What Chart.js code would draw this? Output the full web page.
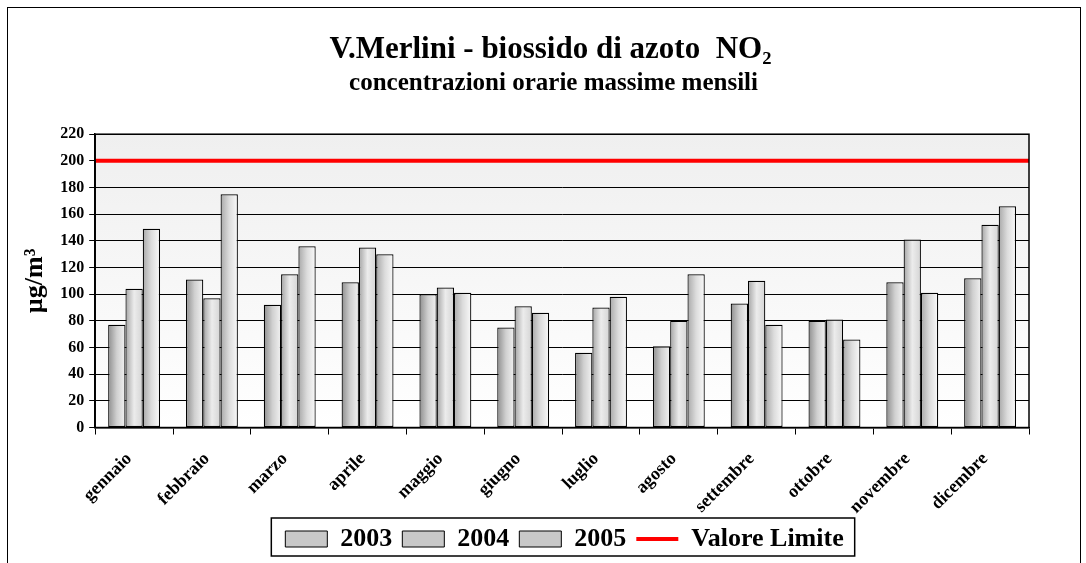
<!DOCTYPE html>
<html>
<head>
<meta charset="utf-8">
<script src="https://cdn.jsdelivr.net/npm/chart.js@4.4.1/dist/chart.umd.min.js"></script>
<style>
    body { margin: 0; background: #fff; }
    #cornice { position: absolute; left: 7px; top: 7px; width: 1072px; height: 600px; border: 1px solid #000; }
    #contenitore { position: absolute; left: 0; top: 0; width: 1086px; height: 563px; }
</style>
</head>
<body>
<div id="cornice"></div>
<div id="contenitore"><canvas id="no2Chart"></canvas></div>
<script>
// Dati
const mesi = ['gennaio', 'febbraio', 'marzo', 'aprile', 'maggio', 'giugno',
    'luglio', 'agosto', 'settembre', 'ottobre', 'novembre', 'dicembre'];
const anni = ['2003', '2004', '2005'];
const valori2003 = [77, 111, 92, 109, 100, 75, 56, 61, 93, 80, 109, 112];
const valori2004 = [104, 97, 115, 135, 105, 91, 90, 80, 110, 81, 141, 152];
const valori2005 = [149, 175, 136, 130, 101, 86, 98, 115, 77, 66, 101, 166];
const valoreLimite = 200;
const assey = { min: 0, max: 220, passo: 20 };

const font = 'Liberation Serif';
const percCategoria = 0.667;

// sfumatura orizzontale per ogni barra
const colori = [
    ['#8e8e8e', '#d0d0d0', '#f2f2f2'],
    ['#a4a4a4', '#ececec', '#d4d4d4'],
    ['#a8a8a8', '#dcdcdc', '#fafafa']
];
function sfumatura(ctx) {
    const chart = ctx.chart;
    const x = chart.scales.x;
    const c = colori[ctx.datasetIndex];
    if (!chart.chartArea || !x || ctx.type !== 'data') return c[1];
    const largBarra = x.width / mesi.length * percCategoria / anni.length;
    const centro = x.getPixelForValue(ctx.dataIndex) + (ctx.datasetIndex - 1) * largBarra;
    const sx = centro - largBarra / 2;
    const g = chart.ctx.createLinearGradient(sx, 0, sx + largBarra, 0);
    g.addColorStop(0, c[0]);
    g.addColorStop(0.5, c[1]);
    g.addColorStop(1, c[2]);
    return g;
}

const sfondoPlot = {
    id: 'sfondoPlot',
    afterLayout(chart) {
        // titoli e legenda dell'originale non sono centrati sulla tela
        const sposta = (box, dx) => { box.left += dx; box.right += dx; };
        sposta(chart.titleBlock, 26);
        const sub = chart.boxes.find(b => b.options && b.options.text === chart.options.plugins.subtitle.text && b !== chart.titleBlock);
        if (sub) sposta(sub, 29);
        const lg = chart.legend;
        sposta(lg, 40);
        (lg.legendHitBoxes || []).forEach(h => { h.left += 40; });
    },
    beforeDraw(chart) {
        const a = chart.chartArea;
        const ctx = chart.ctx;
        const g = ctx.createLinearGradient(0, a.top, 0, a.bottom);
        g.addColorStop(0, '#efefef');
        g.addColorStop(1, '#ffffff');
        ctx.save();
        ctx.fillStyle = g;
        ctx.fillRect(a.left, a.top, a.right - a.left, a.bottom - a.top);
        ctx.restore();
    },
    afterDatasetsDraw(chart) {
        const a = chart.chartArea;
        const ctx = chart.ctx;
        ctx.save();
        ctx.strokeStyle = '#000';
        ctx.lineWidth = 1.5;
        ctx.strokeRect(a.left, a.top, a.right - a.left, a.bottom - a.top);
        ctx.restore();
    },
    afterDraw(chart) {
        const boxes = chart.legend.legendHitBoxes;
        if (!boxes || !boxes.length) return;
        let l = Infinity, r = -Infinity, t = Infinity, b = -Infinity;
        boxes.forEach(h => {
            l = Math.min(l, h.left); r = Math.max(r, h.left + h.width);
            t = Math.min(t, h.top); b = Math.max(b, h.top + h.height);
        });
        const ctx = chart.ctx;
        ctx.save();
        ctx.strokeStyle = '#000';
        ctx.lineWidth = 1.5;
        ctx.strokeRect(l - 14, t - 8, r - l + 25, b - t + 12);
        ctx.restore();
    }
};

document.addEventListener('DOMContentLoaded', function() {
    const ctx = document.getElementById('no2Chart').getContext('2d');
    const serie = [valori2003, valori2004, valori2005];
    const datasets = anni.map((anno, i) => ({
        type: 'bar',
        label: anno,
        data: serie[i],
        backgroundColor: sfumatura,
        borderColor: '#000',
        borderWidth: 1.2,
        borderSkipped: false,
        categoryPercentage: percCategoria,
        barPercentage: 1.0
    }));
    // linea del limite da bordo a bordo dell'asse delle categorie
    datasets.push({
        type: 'line',
        label: 'Valore Limite',
        parsing: false,
        data: [{ x: -0.5, y: valoreLimite }, { x: mesi.length - 0.5, y: valoreLimite }],
        borderColor: '#ff0000',
        borderWidth: 4,
        pointRadius: 0,
        fill: false
    });

    new Chart(ctx, {
        data: { labels: mesi, datasets: datasets },
        plugins: [sfondoPlot],
        options: {
            responsive: true,
            maintainAspectRatio: false,
            animation: false,
            layout: { padding: { left: 20, right: 57, top: 0, bottom: 1 } },
            plugins: {
                title: {
                    display: true,
                    text: 'V.Merlini - biossido di azoto  NO₂',
                    color: '#000',
                    font: { family: font, size: 31, weight: 'bold' },
                    padding: { top: 31, bottom: 0 }
                },
                subtitle: {
                    display: true,
                    text: 'concentrazioni orarie massime mensili',
                    color: '#000',
                    font: { family: font, size: 25, weight: 'bold' },
                    padding: { top: 0, bottom: 36 }
                },
                legend: {
                    position: 'bottom',
                    labels: {
                        color: '#000',
                        font: { family: font, size: 26, weight: 'bold' },
                        usePointStyle: true,
                        pointStyleWidth: 42,
                        boxHeight: 16,
                        padding: 10,
                        generateLabels(chart) {
                            return chart.data.datasets.map((ds, i) => {
                                const linea = ds.type === 'line';
                                return {
                                    text: ds.label,
                                    fillStyle: linea ? '#ff0000' : '#c8c8c8',
                                    strokeStyle: linea ? '#ff0000' : '#000',
                                    lineWidth: linea ? 4 : 1,
                                    pointStyle: linea ? 'line' : 'rect',
                                    fontColor: '#000',
                                    hidden: false,
                                    datasetIndex: i
                                };
                            });
                        }
                    }
                },
                tooltip: { enabled: false }
            },
            scales: {
                x: {
                    type: 'category',
                    offset: true,
                    grid: { offset: true, drawOnChartArea: false, color: '#000', tickLength: 7 },
                    border: { color: '#000', width: 1.5 },
                    ticks: {
                        color: '#000',
                        maxRotation: 45,
                        minRotation: 45,
                        padding: 14,
                        labelOffset: -5,
                        font: { family: font, size: 18, weight: 'bold' }
                    },
                    afterFit(scale) {
                        // le etichette inclinate arrivano fino alla legenda
                        scale.height -= 16;
                    }
                },
                y: {
                    min: assey.min,
                    max: assey.max,
                    grid: { color: '#000', lineWidth: 1, tickLength: 6 },
                    border: { color: '#000', width: 1.5 },
                    ticks: {
                        stepSize: assey.passo,
                        color: '#000',
                        padding: 5,
                        font: { family: font, size: 16, weight: 'bold' }
                    },
                    title: {
                        display: true,
                        text: 'µg/m³',
                        color: '#000',
                        font: { family: font, size: 26, weight: 'bold' },
                        padding: { top: 0, bottom: 4 }
                    }
                }
            }
        }
    });
});
</script>
</body>
</html>
